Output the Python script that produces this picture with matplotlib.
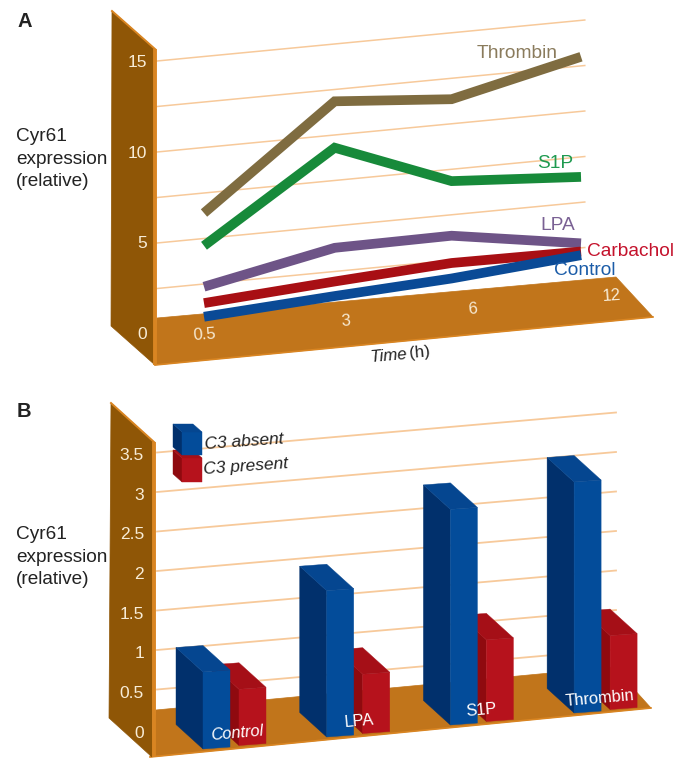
import matplotlib
matplotlib.use("Agg")
import matplotlib.pyplot as plt
from matplotlib.patches import Polygon

plt.rcParams["font.family"] = ["Liberation Sans", "DejaVu Sans"]

# -----------------------------
# Data
# -----------------------------

time_labels = ["0.5", "3", "6", "12"]
time_pos = [0, 1.04, 1.97, 3]

thrombin = [6.4, 11.85, 11.35, 13.0]
s1p = [4.6, 9.3, 6.85, 6.4]
lpa = [2.35, 3.8, 3.85, 2.75]
carbachol = [1.45, 1.95, 2.35, 2.3]
control = [0.7, 1.15, 1.5, 2.1]

a_ticks = [0, 5, 10, 15]
a_grid = [2.5, 5, 7.5, 10, 12.5, 15]

bar_groups = ["Control", "LPA", "S1P", "Thrombin"]
c3_absent = [1.0, 1.9, 2.8, 3.0]
c3_present = [0.73, 0.77, 1.06, 0.96]

b_tick_labels = ["0", "0.5", "1", "1.5", "2", "2.5", "3", "3.5"]
b_ticks = [0, 0.5, 1, 1.5, 2, 2.5, 3, 3.5]

# colours
WALL = "#8f5606"
FLOOR = "#c1751b"
EDGE = "#d98522"
GRID = "#f7c99a"
TICK = "#f8ecd6"
BLUE = ("#034c9a", "#01306c", "#054690")
RED = ("#b6121c", "#8f0a0f", "#a50f17")
TEXT = "#222222"


# -----------------------------
# Scales: data value -> pixel position
# -----------------------------

def a_x(u):
    return 204 + 125.67 * u


def a_y(u, v):
    return 329.5 - 12.04 * u - 18.2 * v


def b_x(g, s):
    return 203 + 123.7 * g + 36 * s


def b_y(g, s, v):
    return 749 - 12 * g - 3.5 * s - 77 * v


def draw_box(ax, x, y_base, y_top, width, dx, dy, colors, slope=0.0, zorder=4):
    # front, side and top of one bar
    front, side, top = colors
    ax.add_patch(Polygon([(x + dx, y_base + dy), (x, y_base), (x, y_top), (x + dx, y_top + dy)],
                         closed=True, fc=side, ec=side, lw=0.3, zorder=zorder))
    ax.add_patch(Polygon([(x, y_base), (x + width, y_base - slope), (x + width, y_top - slope), (x, y_top)],
                         closed=True, fc=front, ec=front, lw=0.3, zorder=zorder))
    ax.add_patch(Polygon([(x, y_top), (x + width, y_top - slope), (x + width + dx, y_top - slope + dy),
                          (x + dx, y_top + dy)],
                         closed=True, fc=top, ec=top, lw=0.3, zorder=zorder))


def draw_wall(ax, top_back, top_front, bottom_front, bottom_back):
    ax.add_patch(Polygon([top_back, top_front, bottom_front, bottom_back], closed=True,
                         fc=WALL, ec=WALL, lw=0.5, zorder=2))
    ax.plot([top_back[0], top_front[0]], [top_back[1], top_front[1]], color=EDGE, lw=1.4, zorder=3)
    ax.plot([top_front[0], top_front[0]], [top_front[1], bottom_front[1]], color=EDGE, lw=2.8,
            solid_capstyle="butt", zorder=3)


fig = plt.figure(figsize=(6.92, 7.65), dpi=100)
ax = fig.add_axes([0, 0, 1, 1])
ax.set_xlim(0, 692)
ax.set_ylim(765, 0)
ax.axis("off")


# -----------------------------
# Panel A: lines
# -----------------------------

for v in a_grid:
    ax.plot([a_x(-0.374), a_x(3.03)], [a_y(-0.374, v), a_y(3.03, v)], color=GRID, lw=1.1, zorder=1)

ax.add_patch(Polygon([(157, 318), (616, 277), (653, 317), (155, 365)], closed=True, fc=FLOOR, ec=FLOOR, lw=0.5, zorder=2))
ax.plot([155, 653], [365, 317], color=EDGE, lw=1.2, zorder=2)
draw_wall(ax, (112, 11), (155, 49), (155, 365), (111, 326))

a_series = [
    (thrombin, "#7f6c40"),
    (s1p, "#178a3a"),
    (lpa, "#6e5487"),
    (carbachol, "#a80f14"),
    (control, "#0a4a96"),
]
for values, color in a_series:
    xs = [a_x(u) for u in time_pos]
    ys = [a_y(u, v) for u, v in zip(time_pos, values)]
    ax.plot(xs, ys, color=color, lw=7.0, solid_capstyle="butt", solid_joinstyle="miter", zorder=4)

for v in a_ticks:
    ax.text(147, 334 - 18.1 * v, str(v), color=TICK, fontsize=12.5, ha="right", va="center", zorder=5)

for u, label in zip(time_pos, time_labels):
    ax.text(205 + 135.67 * u, 335 - 13 * u, label, color=TICK, fontsize=12, rotation=4, ha="center", va="center", zorder=5)

ax.text(477, 53, "Thrombin", color="#8a7b5c", fontsize=13.8, ha="left", va="center", zorder=6)
ax.text(537, 163, "S1P", color="#1f9a50", fontsize=13.8, ha="left", va="center", zorder=6)
ax.text(540, 225, "LPA", color="#7a6194", fontsize=13.8, ha="left", va="center", zorder=6)
ax.text(587, 251, "Carbachol", color="#c4122c", fontsize=13.8, ha="left", va="center", zorder=6)
ax.text(554, 270, "Control", color="#1b5ca8", fontsize=13.8, ha="left", va="center", zorder=6)

ax.text(369, 356, "Time", fontsize=12.2, style="italic", rotation=5, ha="left", va="center", color=TEXT)
ax.text(409, 353, "(h)", fontsize=12.2, rotation=5, ha="left", va="center", color=TEXT)

ax.text(16, 159, "Cyr61\nexpression\n(relative)", fontsize=13.7, color=TEXT, ha="left", va="center", linespacing=1.4)
ax.text(17, 21, "A", fontsize=14.5, fontweight="bold", color=TEXT, ha="left", va="center")


# -----------------------------
# Panel B: bars
# -----------------------------

for v in b_ticks[1:]:
    ax.plot([157, 616], [729 - 79 * v, 729 - 79 * v - 40], color=GRID, lw=1.3, zorder=1)

ax.add_patch(Polygon([(156, 710), (614, 667), (651, 708), (150, 757)], closed=True, fc=FLOOR, ec=FLOOR, lw=0.5, zorder=2))
ax.plot([150, 651], [757, 708], color=EDGE, lw=1.2, zorder=2)
draw_wall(ax, (111, 403), (154, 442), (152, 757), (109, 718))

for v, label in zip(b_ticks, b_tick_labels):
    ax.text(144, 733 - 79.3 * v, label, color=TICK, fontsize=12.5, ha="right", va="center", zorder=5)

for g in range(len(bar_groups)):
    for s, values, colors in [(1, c3_present, RED), (0, c3_absent, BLUE)]:
        x = b_x(g, s)
        draw_box(ax, x, b_y(g, s, 0), b_y(g, s, values[g]), 27, -27, -24.5, colors, slope=2)

ax.text(237, 733, "Control", color="white", fontsize=11.8, style="italic", rotation=5, ha="center", va="center", zorder=6)
ax.text(359, 721, "LPA", color="white", fontsize=11.8, rotation=5, ha="center", va="center", zorder=6)
ax.text(481, 710, "S1P", color="white", fontsize=11.8, rotation=5, ha="center", va="center", zorder=6)
ax.text(600, 698, "Thrombin", color="white", fontsize=11.8, rotation=5, ha="center", va="center", zorder=6)

# legend cubes
draw_box(ax, 182, 482, 458, 20, -9, -8, RED, zorder=5)
draw_box(ax, 182, 455, 432, 20, -9, -8, BLUE, zorder=5)

ax.text(204, 442, "C3 absent", fontsize=12.5, style="italic", rotation=4, color=TEXT, ha="left", va="center", zorder=6)
ax.text(203, 467, "C3 present", fontsize=12.5, style="italic", rotation=4, color=TEXT, ha="left", va="center", zorder=6)

ax.text(16, 557, "Cyr61\nexpression\n(relative)", fontsize=13.7, color=TEXT, ha="left", va="center", linespacing=1.4, zorder=6)
ax.text(17, 411, "B", fontsize=14.5, fontweight="bold", color=TEXT, ha="left", va="center")

fig.savefig("out.png", dpi=100)
plt.close(fig)
